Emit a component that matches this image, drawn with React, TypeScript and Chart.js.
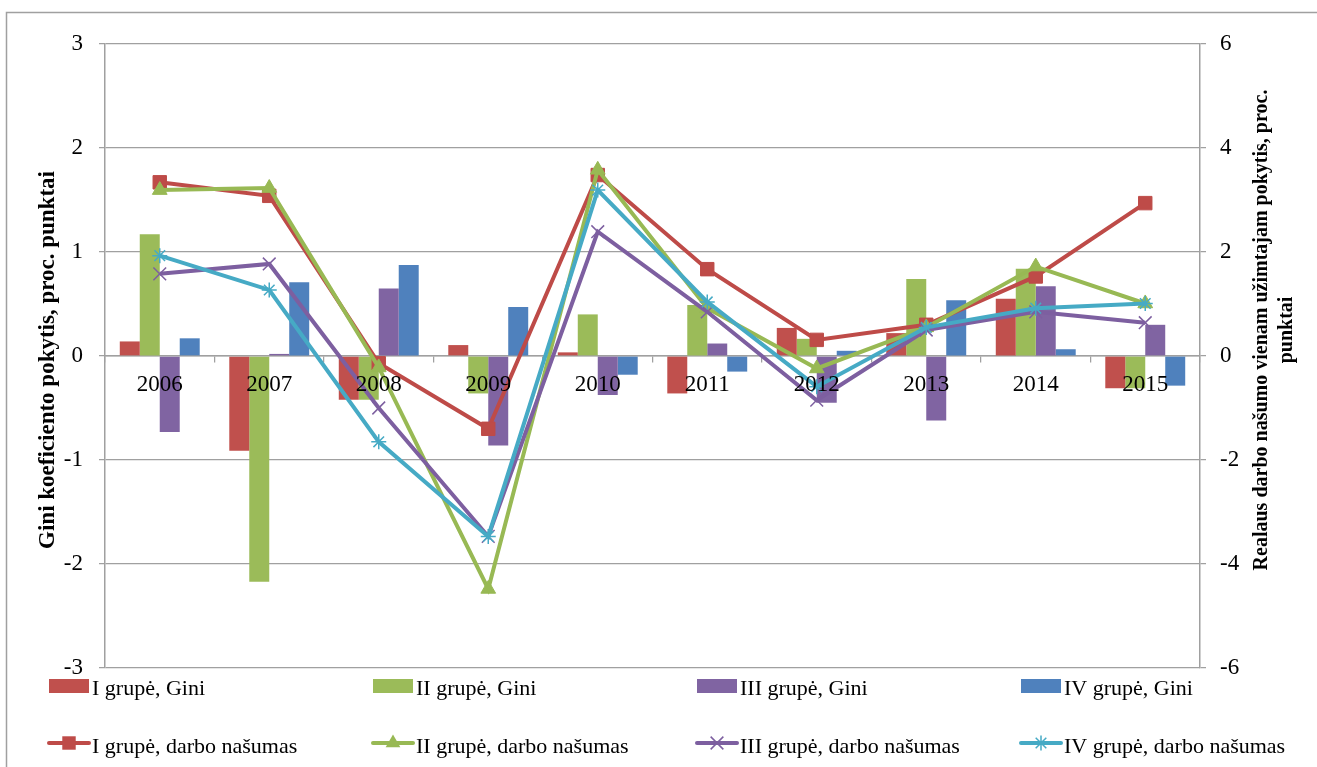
import React, { useEffect, useRef } from 'react';
import { Chart, registerables } from 'chart.js';

Chart.register(...registerables);

const years = ['2006', '2007', '2008', '2009', '2010', '2011', '2012', '2013', '2014', '2015'];

// Gini change (left axis)
const giniI = [0.14, -0.91, -0.42, 0.105, 0.035, -0.36, 0.27, 0.22, 0.55, -0.31];
const giniII = [1.17, -2.17, -0.42, -0.36, 0.4, 0.49, 0.165, 0.74, 0.84, -0.31];
const giniIII = [-0.73, 0.02, 0.65, -0.86, -0.375, 0.12, -0.45, -0.62, 0.67, 0.3];
const giniIV = [0.17, 0.71, 0.875, 0.47, -0.18, -0.15, 0.05, 0.535, 0.065, -0.285];

// Labour productivity change (right axis)
const darboI = [3.34, 3.08, -0.14, -1.4, 3.48, 1.67, 0.31, 0.6, 1.53, 2.94];
const darboII = [3.19, 3.23, -0.22, -4.48, 3.58, 0.92, -0.24, 0.55, 1.72, 1.01];
const darboIII = [1.58, 1.77, -1.0, -3.47, 2.39, 0.85, -0.85, 0.5, 0.85, 0.64];
const darboIV = [1.93, 1.27, -1.65, -3.47, 3.19, 1.04, -0.59, 0.55, 0.92, 1.01];

const barLabels = ['I grupė, Gini', 'II grupė, Gini', 'III grupė, Gini', 'IV grupė, Gini'];
const lineLabels = [
  'I grupė, darbo našumas',
  'II grupė, darbo našumas',
  'III grupė, darbo našumas',
  'IV grupė, darbo našumas',
];
const leftTitle = 'Gini koeficiento pokytis, proc. punktai';
const rightTitle = ['Realaus darbo našumo vienam užimtajam pokytis, proc.', 'punktai'];

const BAR_COLORS = ['#C0504D', '#9BBB59', '#8064A2', '#4F81BD'];
const LINE_COLORS = ['#BE4B48', '#98B954', '#7D5FA0', '#46AAC5'];
const POINT_STYLES = ['rect', 'triangle', 'crossRot', 'star'];
const POINT_RADII = [9.5, 8.5, 9, 7.5];
const GRID = '#a0a0a0';
const FONT = '"Liberation Serif", "Times New Roman", serif';

function drawMarker(ctx: CanvasRenderingContext2D, style: string, x: number, y: number, r: number, color: string) {
  ctx.save();
  ctx.fillStyle = color;
  ctx.strokeStyle = color;
  ctx.lineWidth = 1.5;
  ctx.beginPath();
  if (style === 'rect') {
    const s = r * Math.SQRT1_2;
    ctx.rect(x - s, y - s, 2 * s, 2 * s);
    ctx.fill();
  } else if (style === 'triangle') {
    ctx.moveTo(x, y - r);
    ctx.lineTo(x + r * Math.sin((2 * Math.PI) / 3), y + r / 2);
    ctx.lineTo(x - r * Math.sin((2 * Math.PI) / 3), y + r / 2);
    ctx.closePath();
    ctx.fill();
  } else if (style === 'crossRot') {
    const s = r * Math.SQRT1_2;
    ctx.moveTo(x - s, y - s);
    ctx.lineTo(x + s, y + s);
    ctx.moveTo(x + s, y - s);
    ctx.lineTo(x - s, y + s);
    ctx.stroke();
  } else {
    const s = r * Math.SQRT1_2;
    ctx.moveTo(x - s, y - s);
    ctx.lineTo(x + s, y + s);
    ctx.moveTo(x + s, y - s);
    ctx.lineTo(x - s, y + s);
    ctx.moveTo(x, y - r);
    ctx.lineTo(x, y + r);
    ctx.moveTo(x - r, y);
    ctx.lineTo(x + r, y);
    ctx.stroke();
  }
  ctx.restore();
}

function drawRotated(ctx: CanvasRenderingContext2D, text: string, x: number, y: number) {
  ctx.save();
  ctx.translate(x, y);
  ctx.rotate(-Math.PI / 2);
  ctx.fillText(text, 0, 0);
  ctx.restore();
}

const decorPlugin = {
  id: 'decor',
  beforeDraw(chart: any) {
    const ctx: CanvasRenderingContext2D = chart.ctx;
    ctx.save();
    ctx.fillStyle = '#ffffff';
    ctx.fillRect(0, 0, chart.width, chart.height);
    ctx.strokeStyle = GRID;
    ctx.lineWidth = 1.5;
    ctx.strokeRect(6.5, 12.5, chart.width + 20, chart.height + 20);
    ctx.restore();
  },
  afterDraw(chart: any) {
    const ctx: CanvasRenderingContext2D = chart.ctx;
    ctx.save();
    ctx.fillStyle = '#000';
    ctx.textAlign = 'center';
    ctx.textBaseline = 'middle';
    ctx.font = `bold 23px ${FONT}`;
    drawRotated(ctx, leftTitle, 48, 360);
    ctx.font = `bold 20px ${FONT}`;
    drawRotated(ctx, rightTitle[0], 1262, 330);
    drawRotated(ctx, rightTitle[1], 1287, 330);

    // legend
    ctx.font = `22px ${FONT}`;
    ctx.textAlign = 'left';
    ctx.textBaseline = 'alphabetic';
    for (let i = 0; i < 4; i++) {
      const x0 = 49 + 324 * i;
      ctx.fillStyle = BAR_COLORS[i];
      ctx.fillRect(x0, 679, 40, 14);
      ctx.fillStyle = '#000';
      ctx.fillText(barLabels[i], x0 + 43, 695);

      ctx.save();
      ctx.strokeStyle = LINE_COLORS[i];
      ctx.lineWidth = 4;
      ctx.lineCap = 'round';
      ctx.beginPath();
      ctx.moveTo(x0, 743);
      ctx.lineTo(x0 + 40, 743);
      ctx.stroke();
      ctx.restore();
      drawMarker(ctx, POINT_STYLES[i], x0 + 20, 743, POINT_RADII[i], LINE_COLORS[i]);
      ctx.fillStyle = '#000';
      ctx.fillText(lineLabels[i], x0 + 43, 753);
    }
    ctx.restore();
  },
};

export default function App() {
  const ref = useRef<HTMLCanvasElement | null>(null);

  useEffect(() => {
    if (!ref.current) return;
    const giniSeries = [giniI, giniII, giniIII, giniIV];
    const darboSeries = [darboI, darboII, darboIII, darboIV];

    const barDatasets = giniSeries.map((d, i) => ({
      type: 'bar' as const,
      label: barLabels[i],
      data: d,
      backgroundColor: BAR_COLORS[i],
      borderWidth: 0,
      yAxisID: 'y',
      categoryPercentage: 0.73,
      barPercentage: 1,
      order: 10,
    }));
    const lineDatasets = darboSeries.map((d, i) => ({
      type: 'line' as const,
      label: lineLabels[i],
      data: d,
      borderColor: LINE_COLORS[i],
      backgroundColor: LINE_COLORS[i],
      borderWidth: 4,
      pointStyle: POINT_STYLES[i],
      pointRadius: POINT_RADII[i],
      pointBorderWidth: i >= 2 ? 1.5 : 1,
      pointBackgroundColor: LINE_COLORS[i],
      pointBorderColor: LINE_COLORS[i],
      tension: 0,
      fill: false,
      yAxisID: 'y1',
      order: 4 - i,
    }));

    const tickFont = { family: FONT, size: 23 };

    const chart = new Chart(ref.current, {
      type: 'bar',
      data: { labels: years, datasets: [...barDatasets, ...lineDatasets] as any },
      options: {
        responsive: false,
        animation: false,
        layout: { padding: { top: 44, bottom: 99, left: 0, right: 0 } },
        plugins: {
          legend: { display: false },
          tooltip: { enabled: false },
          title: { display: false },
        },
        scales: {
          x: {
            position: { y: 0 } as any,
            offset: true,
            grid: {
              display: true,
              drawOnChartArea: false,
              drawTicks: true,
              tickLength: 6,
              offset: true,
              color: GRID,
              lineWidth: 1.25,
            },
            border: { color: GRID, width: 1.5 },
            ticks: { color: '#000', font: tickFont, padding: 9, maxRotation: 0, autoSkip: false, z: 1 },
          },
          y: {
            position: 'left',
            min: -3,
            max: 3,
            ticks: { stepSize: 1, color: '#000', font: tickFont, padding: 16 },
            grid: { color: GRID, lineWidth: 1.25, tickLength: 6 },
            border: { color: GRID, width: 1.5 },
            afterFit: (s: any) => {
              s.width = 105;
            },
          },
          y1: {
            position: 'right',
            min: -6,
            max: 6,
            ticks: { stepSize: 2, color: '#000', font: tickFont, padding: 14 },
            grid: { drawOnChartArea: false, color: GRID, lineWidth: 1.25, tickLength: 6 },
            border: { color: GRID, width: 1.5 },
            afterFit: (s: any) => {
              s.width = 117;
            },
          },
        },
      } as any,
      plugins: [decorPlugin],
    });
    return () => chart.destroy();
  }, []);

  return (
    <div style={{ position: 'absolute', left: 0, top: 0, width: 1317, height: 767 }}>
      <canvas ref={ref} width={1317} height={767} style={{ display: 'block' }} />
    </div>
  );
}
